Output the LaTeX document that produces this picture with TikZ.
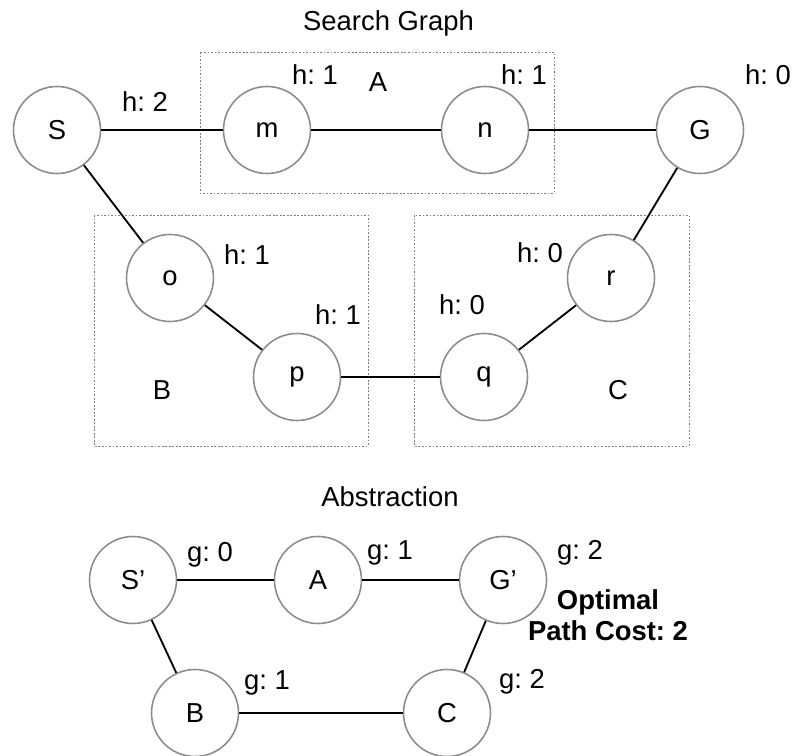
\documentclass[tikz,border=0pt]{standalone}
\usepackage{fontspec}
\setmainfont{Liberation Sans}
\frenchspacing
\usetikzlibrary{calc}
\definecolor{ringgray}{RGB}{140,140,140}
\definecolor{boxgray}{RGB}{125,125,125}
\tikzset{
  vert/.style={circle, draw=ringgray, line width=0.9pt, minimum size=1.74cm, inner sep=0pt, fill=white},
  grp/.style={draw=boxgray, line width=0.5pt, dash pattern=on 1pt off 1pt},
  edge/.style={line width=1.05pt, black},
  lbl/.style={inner sep=0pt}
}
\begin{document}
\begin{tikzpicture}[font=\fontsize{15.6}{18}\selectfont]
			%%%%% START %%%%%
			\useasboundingbox (0, 0) rectangle (16, 15.1);
			
			% search graph
			\node at (7.77, 14.64) {Search Graph};
			\draw[grp] (4.0, 14.06) rectangle (11.08, 11.24);
			\draw[grp] (1.88, 10.8) rectangle (7.36, 6.18);
			\draw[grp] (8.28, 10.8) rectangle (13.78, 6.18);
			
			\node[vert] (S) at (1.14, 12.5) {S};
			\node[vert] (m) at (5.34, 12.5) {m};
			\node[vert] (n) at (9.7, 12.5) {n};
			\node[vert] (G) at (14.0, 12.5) {G};
			\node[vert] (o) at (3.4, 9.54) {o};
			\node[vert] (p) at (5.94, 7.56) {p};
			\node[vert] (q) at (9.68, 7.56) {q};
			\node[vert] (r) at (12.22, 9.54) {r};
			
			\draw[edge] (S) -- (m);
			\draw[edge] (m) -- (n);
			\draw[edge] (n) -- (G);
			\draw[edge] (S) -- (o);
			\draw[edge] (o) -- (p);
			\draw[edge] (p) -- (q);
			\draw[edge] (q) -- (r);
			\draw[edge] (r) -- (G);
			
			\node[lbl] (hS) at (2.9, 13.06) {h: 2};
			\node[lbl] (hm) at (6.3, 13.6) {h: 1};
			\node[lbl] (nameA) at (7.56, 13.46) {A};
			\node[lbl] (hn) at (10.48, 13.6) {h: 1};
			\node[lbl] (hG) at (15.36, 13.6) {h: 0};
			\node[lbl] (ho) at (4.94, 10.0) {h: 1};
			\node[lbl] (hp) at (6.76, 8.8) {h: 1};
			\node[lbl] (hq) at (9.24, 9.0) {h: 0};
			\node[lbl] (hr) at (10.8, 10.04) {h: 0};
			\node[lbl] (nameB) at (3.24, 7.3) {B};
			\node[lbl] (nameC) at (12.36, 7.3) {C};
			
			% abstraction
			\node at (7.8, 5.16) {Abstraction};
			
			\node[vert] (S') at (2.66, 3.5) {S'};
			\node[vert] (A') at (6.36, 3.5) {A};
			\node[vert] (G') at (10.06, 3.5) {G'};
			\node[vert] (B') at (3.9, 0.84) {B};
			\node[vert] (C') at (8.94, 0.84) {C};
			
			\draw[edge] (S') -- (A');
			\draw[edge] (A') -- (G');
			\draw[edge] (S') -- (B');
			\draw[edge] (B') -- (C');
			\draw[edge] (C') -- (G');
			
			\node[lbl] (gS) at (4.2, 4.0) {g: 0};
			\node[lbl] (gA) at (7.8, 4.04) {g: 1};
			\node[lbl] (gG) at (11.6, 4.04) {g: 2};
			\node[lbl] (gB) at (5.34, 1.44) {g: 1};
			\node[lbl] (gC) at (10.44, 1.46) {g: 2};
			\node[lbl, align=center, font=\fontsize{15.6}{17.5}\selectfont\bfseries] (cost) at (12.16, 2.8) {Optimal\\Path Cost: 2};
			
			%%%%% END %%%%%
\end{tikzpicture}
\end{document}
